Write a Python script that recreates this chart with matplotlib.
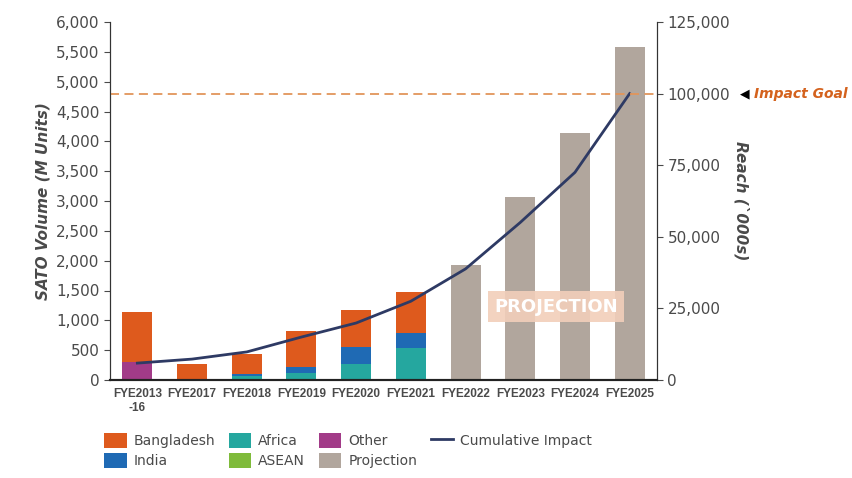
import matplotlib.pyplot as plt
import numpy as np

years = ["FYE2013\n-16", "FYE2017", "FYE2018", "FYE2019", "FYE2020",
         "FYE2021", "FYE2022", "FYE2023", "FYE2024", "FYE2025"]
other = [300, 0, 0, 0, 0, 0, 0, 0, 0, 0]
africa = [0, 0, 60, 120, 270, 540, 0, 0, 0, 0]
asean = [0, 0, 0, 0, 0, 0, 0, 0, 0, 0]
india = [0, 0, 45, 100, 285, 250, 0, 0, 0, 0]
bangladesh = [840, 270, 330, 605, 620, 690, 0, 0, 0, 0]
projection = [0, 0, 0, 0, 0, 0, 1925, 3070, 4135, 5580]
reach = [5900, 7300, 9800, 15000, 19900, 27500, 38800, 55000, 72500, 100000]
impact_goal = 100000

colors = {
    "Bangladesh": "#de5a1d",
    "India": "#1f6ab4",
    "Africa": "#25a79f",
    "ASEAN": "#7fbb3b",
    "Other": "#a23b88",
    "Projection": "#b1a69d",
}
line_color = "#2e3a64"
grey = "#4a4a4a"

fig = plt.figure(figsize=(8.53, 4.78), dpi=100)
ax = fig.add_axes([110/853, 1-380/478, 547/853, 358/478])
ax2 = ax.twinx()

x = np.arange(len(years))
w = 0.55
bottom = np.zeros(len(years))
handles = {}
for name, vals in [("Other", other), ("Africa", africa), ("ASEAN", asean),
                   ("India", india), ("Bangladesh", bangladesh),
                   ("Projection", projection)]:
    b = ax.bar(x, vals, w, bottom=bottom, color=colors[name], label=name)
    handles[name] = b
    bottom += np.array(vals)

ax.set_xlim(-0.5, 9.5)
ax.set_ylim(0, 6000)
ax.set_yticks(np.arange(0, 6001, 500))
ax.set_yticklabels([f"{v:,}" for v in range(0, 6001, 500)])
ax.set_xticks(x)
ax.set_xticklabels(years, fontsize=8.5, fontweight="bold", color=grey,
                   family="Liberation Sans", linespacing=1.2)
ax.tick_params(axis="x", length=0, pad=6)
ax.tick_params(axis="y", labelsize=11, colors=grey, direction="out", length=4)
ax.set_ylabel("SATO Volume (M Units)", fontsize=11, fontstyle="italic",
              fontweight="bold", color=grey)

ax2.set_ylim(0, 125000)
ax2.set_yticks(np.arange(0, 125001, 25000))
ax2.set_yticklabels([f"{v:,}" for v in range(0, 125001, 25000)])
ax2.tick_params(axis="y", labelsize=11, colors=grey, direction="out", length=4)
ax2.set_ylabel("Reach (`000s)", fontsize=11, fontstyle="italic",
               fontweight="bold", color=grey, rotation=-90, labelpad=14)

line, = ax2.plot(x, reach, color=line_color, lw=2, label="Cumulative Impact")
ax2.axhline(impact_goal, color="#e2955a", lw=1.3, ls=(0, (5, 3)))

for a in (ax, ax2):
    a.spines["top"].set_visible(False)
    a.spines["left"].set_color("#333333")
    a.spines["right"].set_color("#333333")
    a.spines["bottom"].set_color("#222222")
    a.spines["bottom"].set_linewidth(1.5)

ax.text(7.65, 1230, "PROJECTION", ha="center", va="center", fontsize=13,
        fontweight="bold", color="white",
        bbox=dict(boxstyle="square,pad=0.35", facecolor="#f2cfba",
                  edgecolor="none", alpha=0.9))

fig.text(740/853, 1-94/478, "\u25c0", fontsize=9, color="black",
         ha="left", va="center")
fig.text(754/853, 1-94/478, "Impact Goal", fontsize=10, color="#d4621d",
         fontweight="bold", fontstyle="italic", ha="left", va="center")

order = ["Bangladesh", "India", "Africa", "ASEAN", "Other", "Projection"]
h = [handles[n] for n in order] + [line]
lab = order + ["Cumulative Impact"]
fig.legend(h, lab, loc="upper left", bbox_to_anchor=(92/853, 1-420/478),
           ncol=4, frameon=False, fontsize=10, handlelength=1.6,
           handleheight=1.3, columnspacing=1.0, handletextpad=0.5,
           labelspacing=0.4, labelcolor=grey)

plt.savefig("out.png", dpi=100)
